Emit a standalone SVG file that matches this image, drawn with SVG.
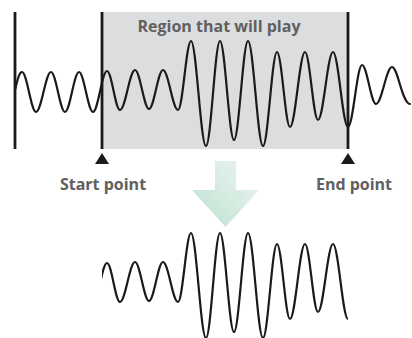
<svg xmlns="http://www.w3.org/2000/svg" xmlns:xlink="http://www.w3.org/1999/xlink" width="412" height="338" viewBox="0 0 412 338">
<style>
.lbl{font-family:"Open Sans","Noto Sans","Liberation Sans",sans-serif;font-weight:700;font-size:16px;fill:#606060}
.wave{fill:none;stroke:#1a1a1a;stroke-width:2.2;stroke-linecap:round;stroke-linejoin:round}
.bar{stroke:#1a1a1a;stroke-width:2.8}
.tri{fill:#1a1a1a}
</style>
<defs>
<linearGradient id="arrowGrad" x1="0" y1="1" x2="1" y2="0">
<stop offset="0" stop-color="#bcdfcf"/>
<stop offset="1" stop-color="#eef6f2"/>
</linearGradient>
<clipPath id="clipRegion"><rect x="102" y="0" width="246" height="338"/></clipPath>
<path id="wavePath" d="M15,90 C17,82 19,72 22,72 C27,72 31,112 36,112 C41.4,112 45.6,72 51,72 C56,72 60,112 65,112 C70,112 74,72 79,72 C84,72 88,112 93,112 C98,112 102,71 107,71 C111.7,71 115.3,110 120,110 C125.4,110 129.6,70 135,70 C140,70 144,109 149,109 C154,109 158,70 163,70 C168.4,70 172.6,110 178,110 C182.7,110 186.3,41 191,41 C196.4,41 200.6,146 206,146 C211,146 215,41 220,41 C225,41 229,140 234,140 C239,140 243,41 248,41 C253.4,41 257.6,146 263,146 C268,146 272,52 277,52 C281.7,52 285.3,127 290,127 C295.4,127 299.6,52 305,52 C309.7,52 313.3,120 318,120 C323.4,120 327.6,52 333,52 C338.4,52 342.6,127 348,127 C353,127 357,65 362,65 C367,65 371,104 376,104 C381.8,104 386.2,67 392,67 C397.8,67 402.2,104 410,104"/>
</defs>
<g id="region">
<rect x="102" y="12" width="246" height="137" fill="#dcdddf"/>
<text class="lbl" x="219" y="31.5" text-anchor="middle">Region that will play</text>
</g>
<g id="wave-top">
<use xlink:href="#wavePath" href="#wavePath" class="wave"/>
<line class="bar" x1="15" y1="12" x2="15" y2="149"/>
</g>
<g id="start-marker">
<line class="bar" x1="102" y1="12" x2="102" y2="149"/>
<polygon class="tri" points="102,153 95,164 109,164"/>
<text class="lbl" x="103" y="190" text-anchor="middle">Start point</text>
</g>
<g id="end-marker">
<line class="bar" x1="348" y1="12" x2="348" y2="149"/>
<polygon class="tri" points="348,153 341,164 355,164"/>
<text class="lbl" x="354" y="190" text-anchor="middle">End point</text>
</g>
<g id="connectors">
<polygon points="215,161 236,161 236,190 259,190 225.5,227 192,190 215,190" fill="url(#arrowGrad)"/>
</g>
<g id="wave-result" clip-path="url(#clipRegion)">
<use xlink:href="#wavePath" href="#wavePath" class="wave" transform="translate(0,192)"/>
</g>
</svg>
